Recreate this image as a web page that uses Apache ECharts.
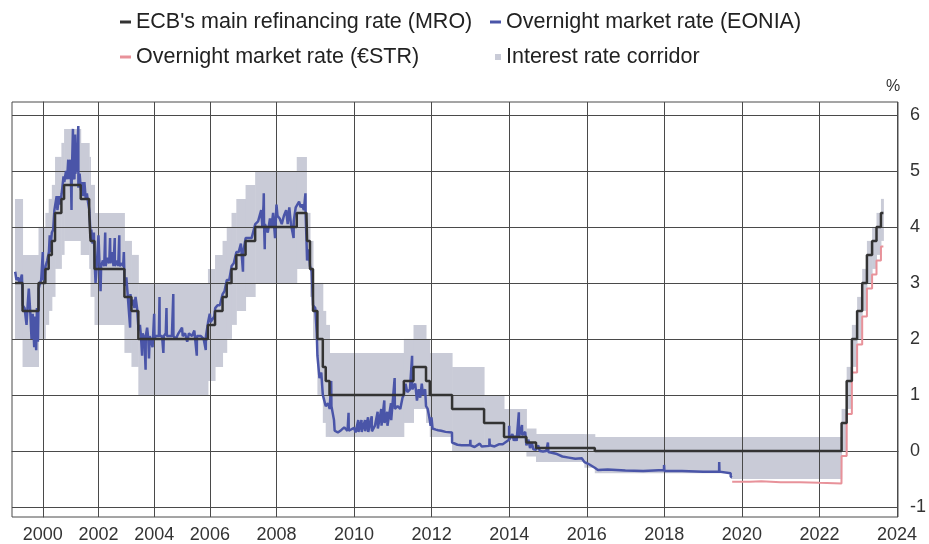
<!DOCTYPE html>
<html>
<head>
<meta charset="utf-8">
<script src="https://cdn.jsdelivr.net/npm/echarts@6/dist/echarts.min.js"></script>
<style>
  html, body { margin: 0; padding: 0; background: #fff; }
  #chart { width: 929px; height: 544px; }
</style>
</head>
<body>
<div id="chart"></div>
<script>
// key ECB rates, value holds from each date until the next one
const rateDates = ['1999-01-01', '1999-04-09', '1999-11-05', '2000-02-04', '2000-03-17', '2000-04-28', '2000-06-09', '2000-09-01', '2000-10-06',
  '2001-05-11', '2001-08-31', '2001-09-18', '2001-11-09', '2002-12-06', '2003-03-07', '2003-06-06', '2005-12-06', '2006-03-08',
  '2006-06-15', '2006-08-09', '2006-10-11', '2006-12-13', '2007-03-14', '2007-06-13', '2008-07-09', '2008-10-09', '2008-10-15',
  '2008-11-12', '2008-12-10', '2009-01-21', '2009-03-11', '2009-04-08', '2009-05-13', '2011-04-13', '2011-07-13', '2011-11-09',
  '2011-12-14', '2012-07-11', '2013-05-08', '2013-11-13', '2014-06-11', '2014-09-10', '2015-12-09', '2016-03-16', '2019-09-18',
  '2022-07-27', '2022-09-14', '2022-11-02', '2022-12-21', '2023-02-08', '2023-03-22', '2023-05-10', '2023-06-21', '2023-08-02', '2023-08-25']
const depositRate = [2.00, 1.50, 2.00, 2.25, 2.50, 2.75, 3.25, 3.50, 3.75,
  3.50, 3.25, 2.75, 2.25, 1.75, 1.50, 1.00, 1.25, 1.50,
  1.75, 2.00, 2.25, 2.50, 2.75, 3.00, 3.25, 3.25, 3.25,
  2.75, 2.00, 1.00, 0.50, 0.25, 0.25, 0.50, 0.75, 0.50,
  0.25, 0.00, 0.00, 0.00, -0.10, -0.20, -0.30, -0.40, -0.50,
  0.00, 0.75, 1.50, 2.00, 2.50, 3.00, 3.25, 3.50, 3.75, 3.75]
const mroRate = [3.00, 2.50, 3.00, 3.25, 3.50, 3.75, 4.25, 4.50, 4.75,
  4.50, 4.25, 3.75, 3.25, 2.75, 2.50, 2.00, 2.25, 2.50,
  2.75, 3.00, 3.25, 3.50, 3.75, 4.00, 4.25, 4.25, 3.75,
  3.25, 2.50, 2.00, 1.50, 1.25, 1.00, 1.25, 1.50, 1.25,
  1.00, 0.75, 0.50, 0.25, 0.15, 0.05, 0.05, 0.00, 0.00,
  0.50, 1.25, 2.00, 2.50, 3.00, 3.50, 3.75, 4.00, 4.25, 4.25]
const lendingRate = [4.50, 3.50, 4.00, 4.25, 4.50, 4.75, 5.25, 5.50, 5.75,
  5.50, 5.25, 4.75, 4.25, 3.75, 3.50, 3.00, 3.25, 3.50,
  3.75, 4.00, 4.25, 4.50, 4.75, 5.00, 5.25, 4.25, 4.25,
  3.75, 3.00, 3.00, 2.50, 2.25, 1.75, 2.00, 2.25, 2.00,
  1.75, 1.50, 1.00, 0.75, 0.40, 0.30, 0.30, 0.25, 0.25,
  0.75, 1.50, 2.25, 2.75, 3.25, 3.75, 4.00, 4.25, 4.50, 4.50]

// EONIA (one line per year)
const eoniaDates = [
  '1999-01-04', '1999-01-20', '1999-02-10', '1999-03-01', '1999-03-31', '1999-04-12', '1999-05-05', '1999-05-31', '1999-06-15', '1999-06-30', '1999-07-20', '1999-08-05', '1999-08-20', '1999-09-10', '1999-09-20', '1999-10-05', '1999-10-15', '1999-10-28', '1999-11-08', '1999-11-25', '1999-12-10', '1999-12-31',
  '2000-01-05', '2000-01-25', '2000-02-07', '2000-02-28', '2000-03-20', '2000-03-31', '2000-04-05', '2000-04-28', '2000-05-15', '2000-05-31', '2000-06-12', '2000-06-30', '2000-07-10', '2000-07-31', '2000-08-15', '2000-09-05', '2000-09-29', '2000-10-09', '2000-10-31', '2000-11-15', '2000-11-30', '2000-12-11', '2000-12-29',
  '2001-01-05', '2001-01-12', '2001-01-15', '2001-01-31', '2001-02-01', '2001-02-20', '2001-02-28', '2001-03-01', '2001-03-20', '2001-04-10', '2001-04-11', '2001-04-27', '2001-05-14', '2001-05-31', '2001-06-15', '2001-06-29', '2001-07-16', '2001-07-31', '2001-08-15', '2001-09-03', '2001-09-19', '2001-09-28', '2001-10-15', '2001-10-31', '2001-11-12', '2001-11-23', '2001-12-10', '2001-12-31',
  '2002-01-15', '2002-01-28', '2002-02-05', '2002-02-28', '2002-03-15', '2002-03-28', '2002-04-02', '2002-04-30', '2002-05-20', '2002-05-31', '2002-06-05', '2002-06-28', '2002-07-15', '2002-08-01', '2002-08-02', '2002-08-30', '2002-09-16', '2002-09-30', '2002-10-01', '2002-10-31', '2002-11-20', '2002-11-29', '2002-12-09', '2002-12-31',
  '2003-01-15', '2003-02-20', '2003-02-24', '2003-03-10', '2003-03-31', '2003-04-15', '2003-04-30', '2003-05-20', '2003-06-09', '2003-06-27', '2003-07-10', '2003-07-25', '2003-08-01', '2003-08-25', '2003-09-10', '2003-09-12', '2003-09-30', '2003-10-15', '2003-10-24', '2003-11-03', '2003-11-28', '2003-12-10', '2003-12-31',
  '2004-01-05', '2004-01-20', '2004-03-01', '2004-03-10', '2004-03-12', '2004-04-13', '2004-04-30', '2004-05-05', '2004-05-31', '2004-06-10', '2004-06-15', '2004-07-20', '2004-08-20', '2004-09-08', '2004-09-10', '2004-10-11', '2004-11-15', '2004-12-31',
  '2005-01-10', '2005-02-10', '2005-03-08', '2005-03-31', '2005-05-10', '2005-06-10', '2005-07-12', '2005-07-14', '2005-09-05', '2005-10-11', '2005-11-08', '2005-11-10', '2005-12-08', '2005-12-30',
  '2006-01-10', '2006-02-28', '2006-03-10', '2006-04-10', '2006-05-10', '2006-06-16', '2006-07-10', '2006-08-10', '2006-09-11', '2006-10-12', '2006-11-10', '2006-12-14',
  '2007-01-10', '2007-01-31', '2007-02-20', '2007-02-22', '2007-03-15', '2007-04-10', '2007-05-10', '2007-06-14', '2007-07-10', '2007-08-09', '2007-08-20', '2007-08-31', '2007-09-03', '2007-09-05', '2007-09-12', '2007-09-14', '2007-10-10', '2007-10-31', '2007-11-15', '2007-11-30', '2007-12-18', '2007-12-31',
  '2008-01-10', '2008-01-31', '2008-02-20', '2008-03-10', '2008-03-31', '2008-04-15', '2008-04-30', '2008-05-15', '2008-06-10', '2008-06-11', '2008-06-30', '2008-07-10', '2008-07-31', '2008-08-15', '2008-08-29', '2008-09-15', '2008-09-30', '2008-10-01', '2008-10-09', '2008-10-15', '2008-10-31', '2008-11-12', '2008-11-28', '2008-12-10', '2008-12-31',
  '2009-01-15', '2009-01-21', '2009-02-10', '2009-02-27', '2009-03-11', '2009-04-08', '2009-04-30', '2009-05-15', '2009-05-29', '2009-06-01', '2009-06-25', '2009-07-01', '2009-07-31', '2009-08-31', '2009-09-30', '2009-10-12', '2009-10-31', '2009-11-10', '2009-11-12', '2009-12-31',
  '2010-01-15', '2010-02-10', '2010-02-12', '2010-03-10', '2010-03-12', '2010-04-13', '2010-04-15', '2010-05-11', '2010-05-13', '2010-06-15', '2010-06-17', '2010-07-15', '2010-08-10', '2010-08-12', '2010-09-14', '2010-09-16', '2010-10-12', '2010-10-14', '2010-11-09', '2010-11-11', '2010-12-14', '2010-12-16',
  '2011-01-18', '2011-01-20', '2011-02-15', '2011-03-10', '2011-03-31', '2011-04-13', '2011-04-29', '2011-05-15', '2011-06-10', '2011-06-30', '2011-07-01', '2011-07-29', '2011-08-15', '2011-08-31', '2011-09-15', '2011-09-30', '2011-10-10', '2011-10-31', '2011-11-09', '2011-11-25', '2011-12-14', '2011-12-22', '2011-12-30',
  '2012-01-10', '2012-02-10', '2012-03-01', '2012-03-30', '2012-05-10', '2012-07-10', '2012-07-11', '2012-07-20', '2012-08-31', '2012-10-10', '2012-12-28', '2012-12-31',
  '2013-01-02', '2013-02-10', '2013-03-28', '2013-04-15', '2013-06-27', '2013-06-28', '2013-07-01', '2013-08-15', '2013-09-30', '2013-10-31', '2013-11-13', '2013-12-30', '2013-12-31',
  '2014-01-02', '2014-01-15', '2014-01-31', '2014-02-15', '2014-02-28', '2014-03-10', '2014-03-31', '2014-04-01', '2014-04-15', '2014-04-30', '2014-05-02', '2014-05-15', '2014-05-30', '2014-06-11', '2014-06-30', '2014-07-15', '2014-07-31', '2014-08-15', '2014-09-10', '2014-09-30', '2014-10-15', '2014-11-15', '2014-12-15', '2014-12-31',
  '2015-01-05', '2015-03-15', '2015-05-15', '2015-07-15', '2015-09-15', '2015-11-15', '2015-12-10',
  '2016-01-15', '2016-03-16', '2016-04-15', '2016-07-15', '2016-12-30',
  '2017-06-15', '2017-12-28', '2017-12-29',
  '2018-01-02', '2018-06-15', '2018-12-31',
  '2019-05-30', '2019-05-31', '2019-06-03', '2019-09-17', '2019-09-18', '2019-09-30'
]
const eoniaValues = [
  3.20, 3.05, 3.10, 3.00, 3.15, 2.60, 2.55, 2.25, 2.60, 2.90, 2.45, 2.00, 2.45, 1.85, 2.40, 1.80, 2.55, 1.95, 2.90, 3.00, 3.05, 3.55,
  3.05, 3.10, 3.30, 3.40, 3.55, 3.85, 3.55, 3.90, 3.95, 4.30, 4.30, 4.55, 4.30, 4.55, 4.40, 4.60, 4.90, 4.80, 5.00, 4.85, 5.20, 4.85, 5.20,
  4.85, 4.30, 4.85, 5.75, 4.90, 4.85, 5.65, 4.95, 5.10, 5.80, 4.70, 4.95, 4.65, 4.80, 4.55, 4.80, 4.50, 4.60, 4.45, 4.30, 3.80, 3.95, 3.70, 3.90, 3.35, 3.00, 3.35, 3.85,
  3.30, 2.85, 3.30, 3.40, 3.30, 3.90, 3.30, 3.45, 3.35, 3.80, 3.35, 3.55, 3.30, 3.80, 3.30, 3.40, 3.30, 3.85, 3.30, 3.35, 3.30, 3.55, 2.95, 3.10,
  2.85, 2.20, 2.80, 2.60, 2.70, 2.55, 2.75, 2.55, 2.15, 2.25, 2.05, 1.70, 2.10, 2.00, 1.45, 2.05, 2.20, 2.00, 1.65, 2.05, 2.05, 1.85, 2.45,
  2.00, 2.05, 2.05, 2.75, 2.05, 2.05, 1.75, 2.05, 2.10, 2.55, 2.05, 2.05, 2.05, 2.80, 2.05, 2.00, 2.10, 2.20,
  2.05, 2.10, 1.95, 2.10, 2.05, 2.15, 1.70, 2.05, 2.05, 2.00, 1.80, 2.05, 2.30, 2.45,
  2.30, 2.40, 2.55, 2.60, 2.60, 2.80, 2.85, 3.05, 3.05, 3.30, 3.35, 3.55,
  3.55, 3.70, 3.20, 3.55, 3.80, 3.80, 3.80, 4.05, 4.10, 4.30, 4.00, 4.40, 4.60, 4.10, 3.60, 4.05, 3.90, 4.15, 4.00, 4.25, 3.80, 4.40,
  4.20, 4.15, 4.05, 4.20, 4.30, 4.05, 4.35, 4.05, 3.80, 4.10, 4.35, 4.35, 4.45, 4.35, 4.40, 4.30, 4.60, 4.25, 3.80, 3.40, 3.60, 3.30, 3.20, 2.60, 2.55,
  2.10, 1.70, 1.30, 1.40, 1.00, 0.80, 0.85, 0.75, 1.25, 0.80, 0.55, 0.36, 0.33, 0.37, 0.42, 0.45, 0.36, 0.68, 0.36, 0.41,
  0.33, 0.55, 0.34, 0.55, 0.34, 0.55, 0.35, 0.60, 0.34, 0.62, 0.35, 0.45, 0.70, 0.40, 0.75, 0.45, 0.90, 0.50, 0.70, 0.45, 0.85, 0.55,
  1.30, 0.75, 0.80, 0.75, 0.95, 1.00, 1.20, 1.05, 1.10, 1.70, 1.10, 1.20, 0.90, 1.10, 0.95, 1.20, 1.00, 1.10, 0.80, 0.75, 0.55, 0.45, 0.60,
  0.40, 0.38, 0.37, 0.36, 0.34, 0.33, 0.15, 0.12, 0.11, 0.10, 0.10, 0.20,
  0.10, 0.07, 0.13, 0.08, 0.09, 0.22, 0.10, 0.08, 0.12, 0.12, 0.10, 0.20, 0.45,
  0.20, 0.18, 0.30, 0.18, 0.27, 0.18, 0.69, 0.25, 0.22, 0.46, 0.28, 0.25, 0.34, 0.10, 0.20, 0.05, 0.15, 0.03, 0.02, 0.10, 0.00, -0.01, 0.00, 0.15,
  -0.02, -0.05, -0.10, -0.12, -0.14, -0.13, -0.20,
  -0.23, -0.30, -0.34, -0.33, -0.35,
  -0.36, -0.34, -0.25,
  -0.36, -0.36, -0.37,
  -0.37, -0.20, -0.37, -0.40, -0.46, -0.47
]

// €STR
const estrDates = ['2019-10-01', '2020-03-16', '2020-07-01', '2020-12-31', '2021-06-30', '2021-12-31', '2022-07-26', '2022-07-27', '2022-09-14',
  '2022-11-02', '2022-12-21', '2023-02-08', '2023-03-22', '2023-05-10', '2023-06-21', '2023-08-02', '2023-08-25']
const estrValues = [-0.55, -0.54, -0.56, -0.56, -0.57, -0.58, -0.59, -0.09, 0.66,
  1.40, 1.90, 2.40, 2.90, 3.15, 3.40, 3.65, 3.65]

const yearTicks = [2000, 2002, 2004, 2006, 2008, 2010, 2012, 2014, 2016, 2018, 2020, 2022, 2024]
const yTicks = [-1, 0, 1, 2, 3, 4, 5, 6]

// the source chart squeezes the years before 2007 (28 px/yr vs 39 px/yr after)
const yearToU = yr => yr < 2007 ? (yr - 2000) * 28 : 196 + (yr - 2007) * 39
const dateToU = d => {
  const [y, m, day] = d.split('-').map(Number)
  return yearToU(y + (m - 1) / 12 + (day - 1) / 365)
}
const pairs = (dates, values) => dates.map((d, i) => [dateToU(d), values[i]])

const tickU = yearTicks.map(yearToU)
const labelByU = {}
yearTicks.forEach((y, i) => { labelByU[tickU[i]] = String(y) })

// corridor blocks: [from, to, deposit rate, lending rate]
const corridorData = rateDates.slice(0, -1).map((d, i) =>
  [dateToU(d), dateToU(rateDates[i + 1]), depositRate[i], lendingRate[i]])

const FONT = 'Liberation Sans, Arial, sans-serif'
const GRID_COLOR = '#4a4a4a'
const CORRIDOR = '#c9cbd7'

const chart = echarts.init(document.getElementById('chart'))

const legendBase = {
  padding: 0,
  itemWidth: 11,
  itemHeight: 3,
  icon: 'rect',
  selectedMode: false,
  textStyle: { fontFamily: FONT, fontSize: 21.5, color: '#222' }
}

chart.setOption({
  animation: false,
  backgroundColor: '#fff',
  grid: {
    left: 12, right: 26, top: 102, bottom: 27,
    show: true, borderColor: GRID_COLOR, borderWidth: 1
  },
  legend: [
    { ...legendBase, left: 120, top: 11, data: ["ECB's main refinancing rate (MRO)"] },
    { ...legendBase, left: 490, top: 11, data: ['Overnight market rate (EONIA)'] },
    { ...legendBase, left: 120, top: 46, data: ['Overnight market rate (€STR)'] },
    { ...legendBase, left: 495, top: 46, itemWidth: 6, itemHeight: 6, data: ['Interest rate corridor'] }
  ],
  graphic: [
    { type: 'text', left: 886, top: 79, style: { text: '%', font: '16px ' + FONT, fill: '#333' } }
  ],
  xAxis: {
    type: 'value',
    min: -31,
    max: 860,
    z: 2,
    axisLine: { show: true, lineStyle: { color: GRID_COLOR } },
    axisTick: { show: true, length: 4, customValues: tickU, lineStyle: { color: GRID_COLOR } },
    axisLabel: {
      customValues: tickU,
      formatter: v => labelByU[Math.round(v)] || '',
      fontFamily: FONT, fontSize: 18, color: '#333', margin: 9
    },
    splitLine: { show: true, lineStyle: { color: GRID_COLOR, width: 1 } }
  },
  yAxis: {
    type: 'value',
    position: 'right',
    min: -1.18,
    max: 6.23,
    z: 2,
    axisLine: { show: true, lineStyle: { color: GRID_COLOR } },
    axisTick: { show: true, length: 5, customValues: yTicks, lineStyle: { color: GRID_COLOR } },
    axisLabel: { customValues: yTicks, fontFamily: FONT, fontSize: 18, color: '#333', margin: 12 },
    splitLine: { show: true, lineStyle: { color: GRID_COLOR, width: 1 } }
  },
  series: [
    {
      name: 'Interest rate corridor',
      type: 'custom',
      z: 1,
      itemStyle: { color: CORRIDOR },
      encode: { x: [0, 1], y: [2, 3] },
      renderItem: (params, api) => {
        const topLeft = api.coord([api.value(0), api.value(3)])
        const bottomRight = api.coord([api.value(1), api.value(2)])
        return {
          type: 'rect',
          shape: {
            x: topLeft[0],
            y: topLeft[1],
            width: bottomRight[0] - topLeft[0] + 0.5,
            height: bottomRight[1] - topLeft[1]
          },
          style: { fill: CORRIDOR }
        }
      },
      data: corridorData
    },
    {
      name: 'Overnight market rate (EONIA)',
      type: 'line',
      symbol: 'none',
      z: 3,
      itemStyle: { color: '#4a55a8' },
      lineStyle: { color: '#4a55a8', width: 2.5 },
      data: pairs(eoniaDates, eoniaValues)
    },
    {
      name: 'Overnight market rate (€STR)',
      type: 'line',
      step: 'end',
      symbol: 'none',
      z: 3,
      itemStyle: { color: '#e8929a' },
      lineStyle: { color: '#e8929a', width: 2 },
      data: pairs(estrDates, estrValues)
    },
    {
      name: "ECB's main refinancing rate (MRO)",
      type: 'line',
      step: 'end',
      symbol: 'none',
      z: 4,
      itemStyle: { color: '#333' },
      lineStyle: { color: '#333', width: 2.5 },
      data: pairs(rateDates, mroRate)
    }
  ]
})
</script>
</body>
</html>
